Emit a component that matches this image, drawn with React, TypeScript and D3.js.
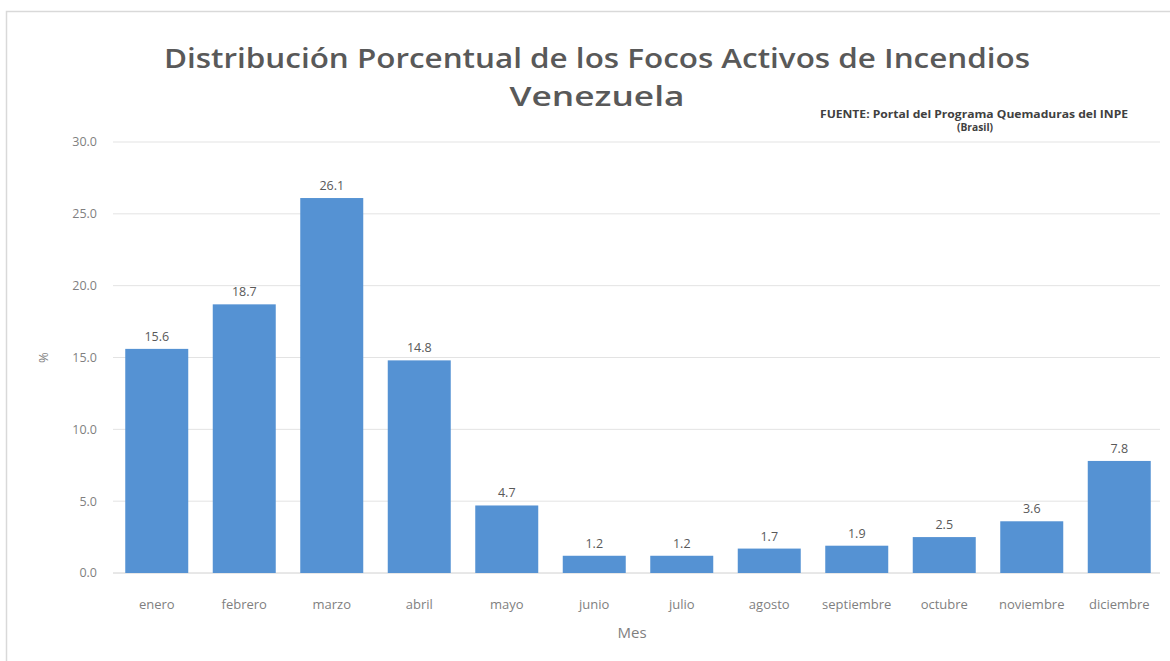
import React from "react";
import * as d3 from "d3";

const months = ["enero", "febrero", "marzo", "abril", "mayo", "junio", "julio", "agosto", "septiembre", "octubre", "noviembre", "diciembre"];
const values = [15.6, 18.7, 26.1, 14.8, 4.7, 1.2, 1.2, 1.7, 1.9, 2.5, 3.6, 7.8];
const yTicks = [0, 5, 10, 15, 20, 25, 30];
const titleLine1 = "Distribución Porcentual de los Focos Activos de Incendios";
const titleLine2 = "Venezuela";
const sourceLine1 = "FUENTE:  Portal del Programa Quemaduras del INPE";
const sourceLine2 = "(Brasil)";
const yLabel = "%";
const xLabel = "Mes";

const W = 1170;
const H = 661;
const left = 113;
const right = 1163;
const top = 142;
const bottom = 573;

export default function App() {
  const x = d3.scaleBand<string>().domain(months).range([left, right]).paddingInner(0.28).paddingOuter(0.14);
  const y = d3.scaleLinear().domain([0, 30]).range([bottom, top]);
  const font = "'Open Sans', 'Liberation Sans', sans-serif";
  const gray = "#7f7f7f";
  return (
    <svg width={W} height={H} style={{ position: "absolute", left: 0, top: 0, background: "#fff" }} fontFamily={font}>
      <rect x={6.5} y={11.5} width={W} height={H + 20} fill="#fff" stroke="#d9d9d9" strokeWidth={1.5} />
      {yTicks.map((t) => (
        <g key={t}>
          <line x1={left} x2={1160} y1={y(t)} y2={y(t)} stroke={t === 0 ? "#d0d0d0" : "#e3e3e3"} strokeWidth={1} />
          <text x={97} y={y(t)} dy="0.35em" textAnchor="end" fontSize={12.5} fill={gray}>
            {t.toFixed(1)}
          </text>
        </g>
      ))}
      {months.map((m, i) => (
        <g key={m}>
          <rect x={x(m)} y={y(values[i])} width={x.bandwidth()} height={y(0) - y(values[i])} fill="#5592d3" />
          <text x={(x(m) as number) + x.bandwidth() / 2} y={y(values[i]) - 8} textAnchor="middle" fontSize={12.5} fill="#595959">
            {values[i].toFixed(1)}
          </text>
          <text x={(x(m) as number) + x.bandwidth() / 2} y={604} dy="0.35em" textAnchor="middle" fontSize={13} fill={gray}>
            {m}
          </text>
        </g>
      ))}
      <text transform={`translate(43,${y(15)}) rotate(-90)`} textAnchor="middle" dy="0.35em" fontSize={13} fill={gray}>
        {yLabel}
      </text>
      <text x={632} y={633} textAnchor="middle" dy="0.35em" fontSize={15} fill={gray}>
        {xLabel}
      </text>
      <text x={597} y={68} textAnchor="middle" fontSize={27} fontWeight={600} fill="#595959" textLength={866} lengthAdjust="spacingAndGlyphs">
        {titleLine1}
      </text>
      <text x={597} y={106} textAnchor="middle" fontSize={27} fontWeight={600} fill="#595959" textLength={175} lengthAdjust="spacingAndGlyphs">
        {titleLine2}
      </text>
      <text x={974} y={118} textAnchor="middle" fontSize={10.5} fontWeight={700} fill="#404040" textLength={308} lengthAdjust="spacingAndGlyphs">
        {sourceLine1}
      </text>
      <text x={975} y={131} textAnchor="middle" fontSize={10.5} fontWeight={700} fill="#404040" textLength={36} lengthAdjust="spacingAndGlyphs">
        {sourceLine2}
      </text>
    </svg>
  );
}
